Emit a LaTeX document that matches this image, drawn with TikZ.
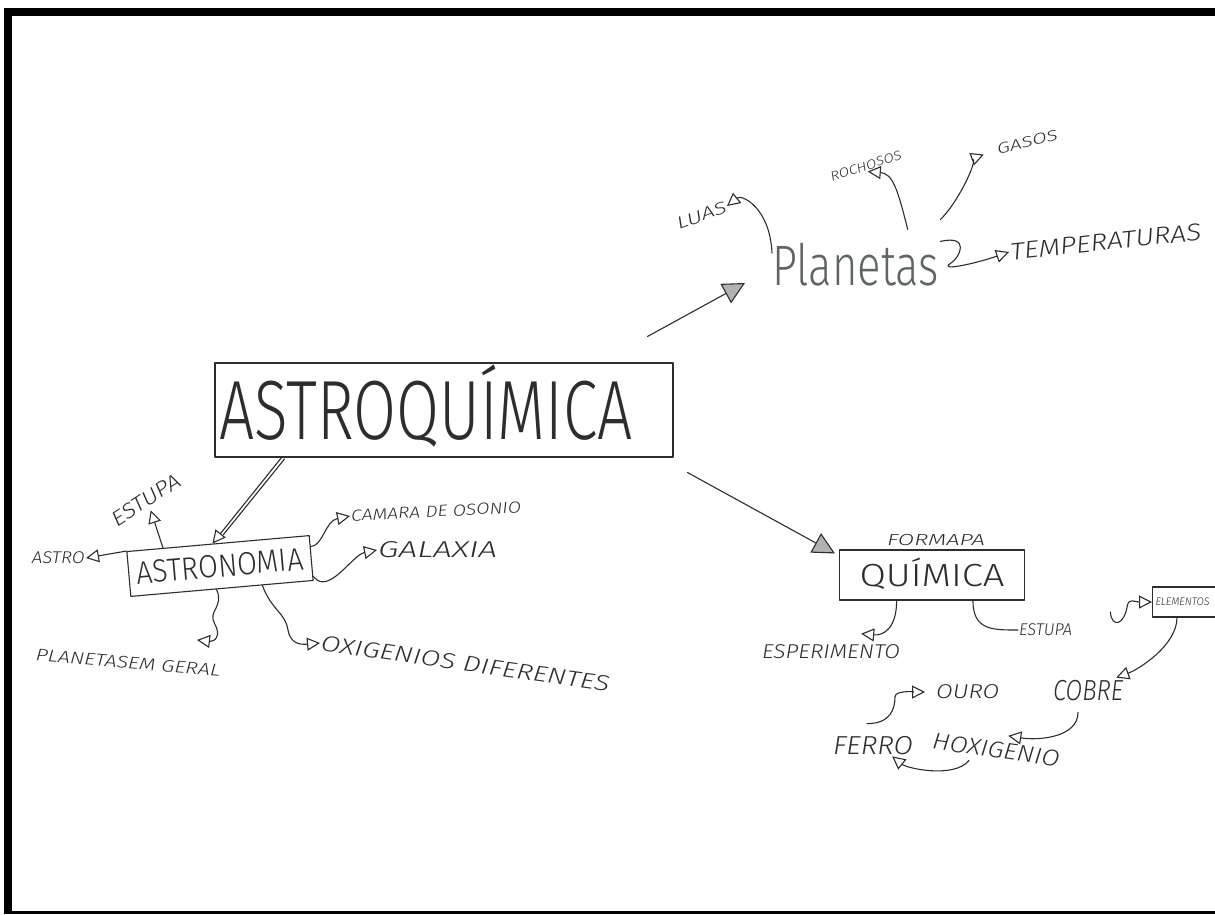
\documentclass[tikz,border=0pt]{standalone}
\usepackage{fontspec}
\usepackage{graphicx}
\newfontfamily\hwfont{Fira Sans Light}
\usetikzlibrary{arrows.meta,calc}
\definecolor{ink}{RGB}{45,45,45}
\definecolor{inkl}{RGB}{95,102,95}
\newcommand\hwt[3]{\resizebox{#1}{\height}{\fontsize{#2}{#2}\selectfont #3}}
\begin{document}
\begin{tikzpicture}[x=1pt,y=-1pt,
  pen/.style={draw=ink, line width=1.1pt, line cap=round, line join=round},
  arr/.style={pen, -{Triangle[open, length=13pt, width=13pt]}},
  harr/.style={pen, -{Triangle[length=22pt, width=22pt, fill=gray!60]}},
  lab/.style={text=ink, inner sep=1pt, font=\hwfont\itshape},
  big/.style={text=ink, inner sep=1pt, font=\hwfont},
  frame/.style={pen, inner sep=0pt},
]
\useasboundingbox (0,0) rectangle (1215,914);
\clip (0,0) rectangle (1215,914);
\fill[white] (0,0) rectangle (1215,914);
\fill[black] (4,8) rectangle (1215,16);
\fill[black] (4,8) rectangle (12,914);
\fill[black] (4,911) rectangle (1215,914);

% main boxes
\node[frame, big, minimum width=458pt, minimum height=94pt, text height=58pt, text depth=0pt] (astroq) at (444,410) {\hwt{413pt}{84}{ASTROQUÍMICA}\hspace*{36pt}};
\node[frame, big, rotate=5, minimum width=183pt, minimum height=45pt, text height=22pt, text depth=0pt] (astronomia) at (220,566) {\hwt{167pt}{32}{ASTRONOMIA}};
\node[frame, big, minimum width=185pt, minimum height=50pt, text height=22pt, text depth=0pt] (quimica) at (932,575) {\hwt{145pt}{32}{QUÍMICA}};
\node[big, anchor=base west, text=inkl] (planetas) at (771,285) {\hwt{167pt}{57}{Planetas}};

% astronomia labels
\node[lab, anchor=east] (astro) at (86,558) {\hwt{53pt}{17}{ASTRO}};
\node[lab, rotate=33] (estupaA) at (146,500) {\hwt{78pt}{21}{ESTUPA}};
\node[lab, rotate=3, anchor=west] (camara) at (350,516) {\hwt{170pt}{16}{CAMARA DE OSONIO}};
\node[lab, anchor=west] (galaxia) at (377,550) {\hwt{119pt}{23}{GALAXIA}};
\node[lab, rotate=-5] (geral) at (128,663) {\hwt{185pt}{17}{PLANETASEM GERAL}};
\node[lab, rotate=-8, anchor=west] (oxig) at (320,643) {\hwt{291pt}{22}{OXIGENIOS DIFERENTES}};

% planetas labels
\node[lab, rotate=20, anchor=east] (luas) at (727,206) {\hwt{52pt}{17}{LUAS}};
\node[lab, rotate=18] (roch) at (866,166) {\hwt{74pt}{13}{ROCHOSOS}};
\node[lab, rotate=14, anchor=west] (gasos) at (996,150) {\hwt{62pt}{15}{GASOS}};
\node[lab, rotate=6, anchor=west] (temp) at (1009,252) {\hwt{192pt}{24}{TEMPERATURAS}};

% quimica labels
\node[lab] (formada) at (936,540) {\hwt{98pt}{16}{FORMAPA}};
\node[lab] (esper) at (831,652) {\hwt{138pt}{20}{ESPERIMENTO}};
\node[lab, anchor=west] (estupaB) at (1018,630) {\hwt{53pt}{17}{ESTUPA}};
\node[frame, lab, anchor=west, minimum height=30pt, text width=100pt, align=left, inner sep=3pt] (elem) at (1152,602) {\hwt{54pt}{11}{ELEMENTOS}};
\node[lab] (cobre) at (1088,691) {\hwt{70pt}{29}{COBRE}};
\node[lab, anchor=west] (ouro) at (935,692) {\hwt{63pt}{20}{OURO}};
\node[lab] (ferro) at (873,746) {\hwt{80pt}{26}{FERRO}};
\node[lab, rotate=-8] (hoxig) at (996,750) {\hwt{128pt}{23}{HOXIGENIO}};

% main connectors
\draw[arr] ($(astroq.south west)!0.146!(astroq.south east)$) -- ($(astronomia.north west)!0.47!(astronomia.north east)$);
\draw[pen] ($(astroq.south west)!0.146!(astroq.south east)+(3,1.5)$) -- ($(astronomia.north west)!0.47!(astronomia.north east)+(11,-9)$);
\draw[harr] ($(astroq.north east)+(-26,-26)$) -- ($(planetas.base west)+(-26,-2)$);
\draw[harr] ($(astroq.south east)+(14,15)$) -- ($(quimica.north west)+(-4,4)$);

% astronomia connectors
\draw[arr] (astronomia.north west) -- (astro.east);
\draw[arr] ($(astronomia.north west)!0.2!(astronomia.north east)$) -- ($(estupaA.south)+(0,3)$);
\draw[arr] ($(astronomia.north east)!0.25!(astronomia.south east)$) .. controls +(12,0) and +(-25,5) .. (camara.west);
\draw[arr] ($(astronomia.north east)!0.9!(astronomia.south east)$) .. controls +(15,20) and +(-25,5) .. (galaxia.west);
\draw[arr] ($(astronomia.south west)!0.47!(astronomia.south east)$) .. controls +(8,17) and +(-7,-12) .. ($(astronomia.south west)!0.47!(astronomia.south east)+(-2,34)$) .. controls +(7,12) and +(18,2) .. ($(geral.north east)+(-25,-24)$);
\draw[arr] ($(astronomia.south west)!0.72!(astronomia.south east)$) .. controls +(10,26) and +(-3,-18) .. ($(oxig.west)+(-32,-13)$) .. controls +(2,12) and +(-22,2) .. (oxig.west);

% planetas connectors
\draw[arr] ($(planetas.base west)+(1,-32)$) .. controls +(-2,-45) and +(15,-12) .. (luas.east);
\draw[arr] ($(planetas.north)+(52,-12)$) .. controls +(-10,-40) and +(25,2) .. (roch.south);
\draw[arr, shorten >=13pt] ($(planetas.north east)+(0,-22)$) .. controls +(18,-17) and +(-16,6) .. (gasos.west);
\draw[arr] (planetas.north east) .. controls +(30,-7) and +(10,-6) .. ($(planetas.north east)+(10,22)$) .. controls +(-12,8) and +(-35,12) .. (temp.west);

% quimica connectors
\draw[arr] ($(quimica.south west)!0.31!(quimica.south east)$) .. controls +(0,28) and +(22,2) .. ($(esper.north east)+(-40,-10)$);
\draw[pen] ($(quimica.south west)!0.72!(quimica.south east)$) .. controls +(0,30) and +(-25,0) .. (estupaB.west);
\draw[arr] ($(estupaB.east)+(37,-18)$) .. controls +(1,16) and +(-3,21) .. ($(estupaB.east)+(54,-25)$) .. controls +(2,-7) and +(-17,0) .. (elem.west);
\draw[arr] ($(elem.south west)+(25,0)$) .. controls +(0,28) and +(22,-8) .. ($(cobre.north east)+(-8,-2)$);
\draw[arr] ($(cobre.south)+(-10,10)$) .. controls +(0,25) and +(30,5) .. ($(hoxig.north)+(11,-5)$);
\draw[arr] ($(hoxig.south west)!0.3!(hoxig.south east)+(0,5)$) .. controls +(-15,18) and +(15,12) .. ($(ferro.south east)+(-22,0)$);
\draw[arr, shorten >=10pt] ($(ferro.north)+(-6,-12)$) .. controls +(23,0) and +(0,13) .. ($(ferro.north)+(22,-39)$) .. controls +(0,-7) and +(-15,0) .. (ouro.west);
\end{tikzpicture}
\end{document}
